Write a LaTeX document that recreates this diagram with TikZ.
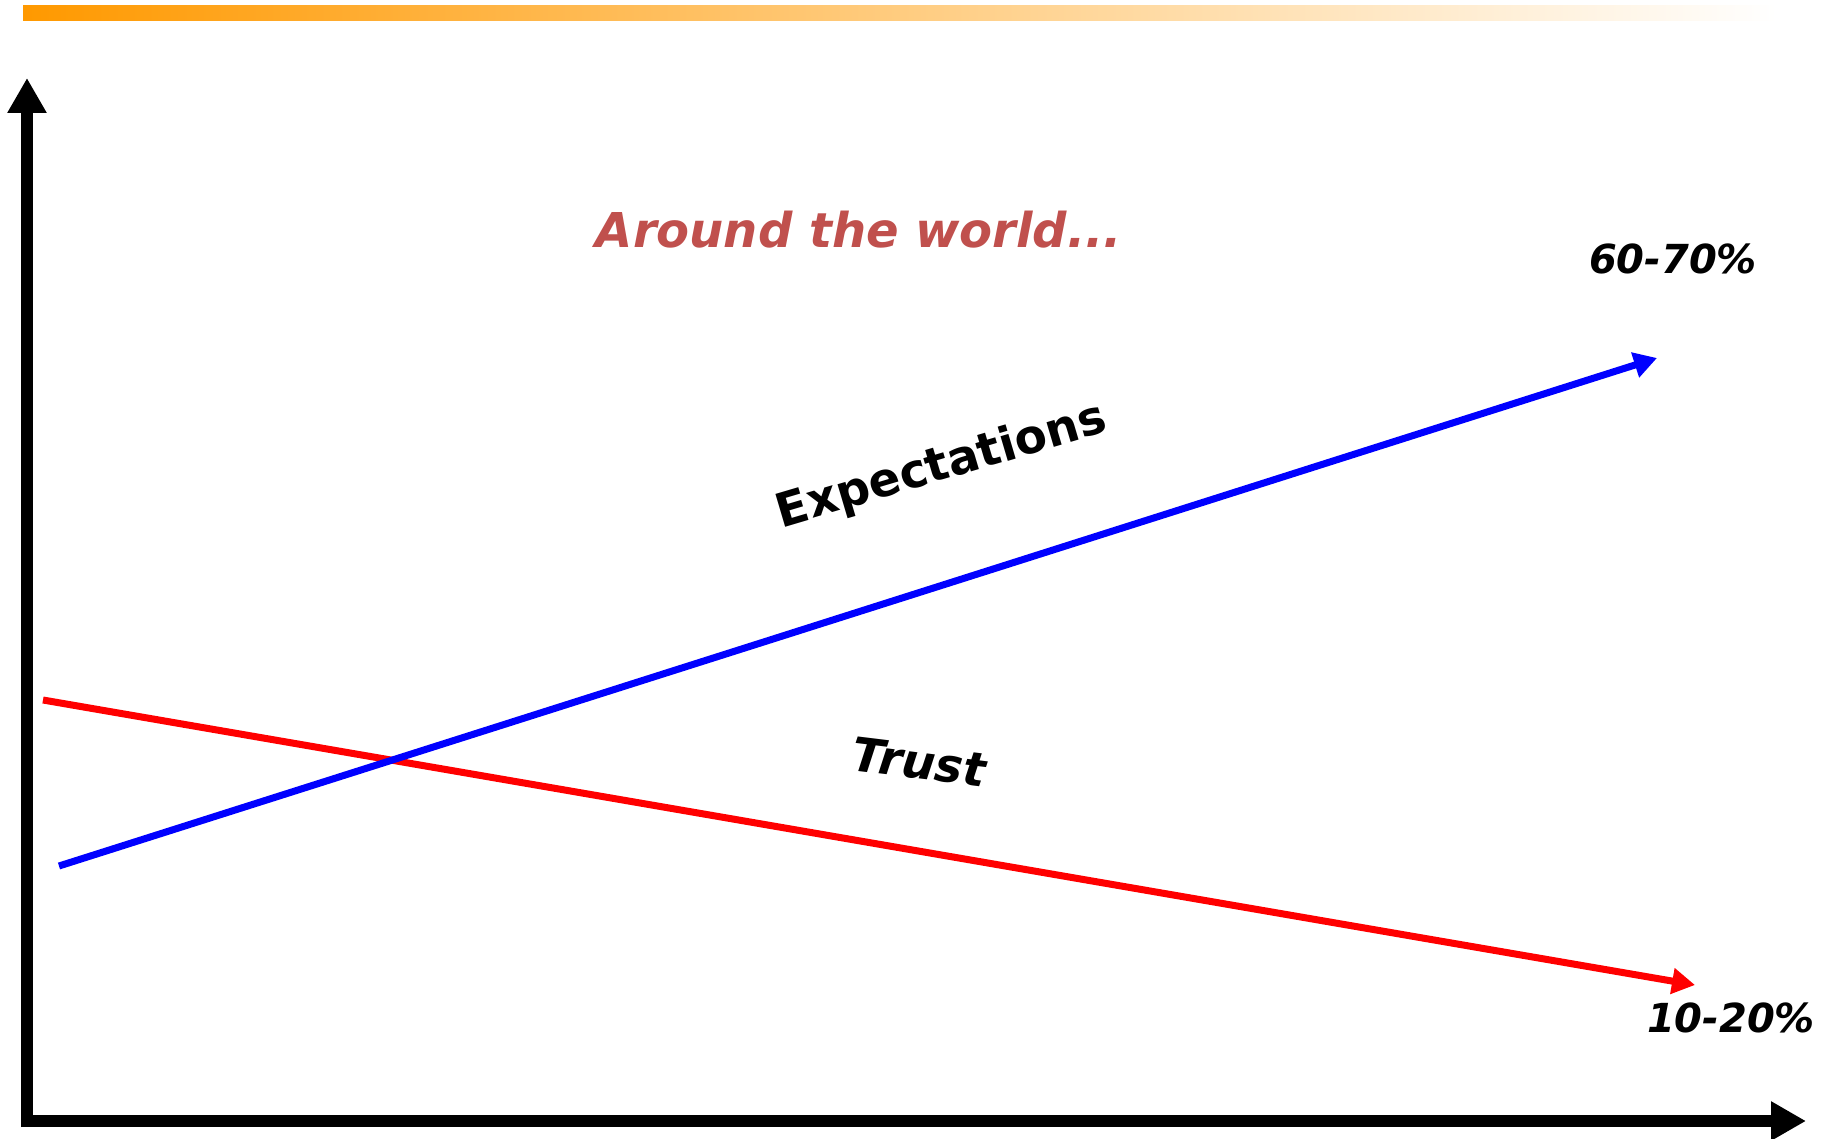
\documentclass[tikz,border=0pt]{standalone}
\usepackage{fontspec}
\setmainfont{DejaVu Sans}
\usetikzlibrary{arrows.meta}
\definecolor{barorange}{HTML}{FF9900}
\definecolor{barmid}{HTML}{FFC3A0}
\definecolor{titlered}{HTML}{C0504D}
\tikzset{
  axis/.style={line width=12pt, draw=black, -{Triangle[length=35pt,width=37pt]}},
  trend/.style={line width=7pt, -{Triangle[length=23pt,width=25pt]}},
  lbl/.style={font=\fontsize{40}{48}\selectfont\bfseries\itshape, inner sep=0pt},
}
\begin{document}
\begin{tikzpicture}[x=1pt,y=-1pt]
\useasboundingbox (0,0) rectangle (1833,1139);
\fill[white] (0,0) rectangle (1833,1139);
\shade[left color=barorange, middle color=barmid, right color=white] (23,6) rectangle (1777,21);
% axes
\coordinate (origin) at (27,1121);
\coordinate (ytip) at (27,78);
\coordinate (xtip) at (1806,1121);
\draw[axis] (27,1127) -- (ytip);
\draw[axis] (21,1121) -- (xtip);
% trends
\coordinate (rs) at (43,700);
\coordinate (re) at (1695,985);
\coordinate (bs) at (59,866);
\coordinate (be) at (1657,358);
\draw[trend, red] (rs) -- (re);
\draw[trend, blue] (bs) -- (be);
% labels
\node[font=\fontsize{48}{58}\selectfont\bfseries\itshape, text=titlered, inner sep=0pt] (title) at (859,230) {Around the world...};
\node[lbl] (top) at (1673,259) {60-70\%};
\node[lbl] (bot) at (1731,1018) {10-20\%};
\node[font=\fontsize{47}{56}\selectfont\bfseries, inner sep=0pt, rotate=16.5] (exp) at (942,467) {Expectations};
\node[font=\fontsize{47}{56}\selectfont\bfseries\itshape, inner sep=0pt, rotate=-7] (trust) at (919,762) {Trust};
\end{tikzpicture}
\end{document}
